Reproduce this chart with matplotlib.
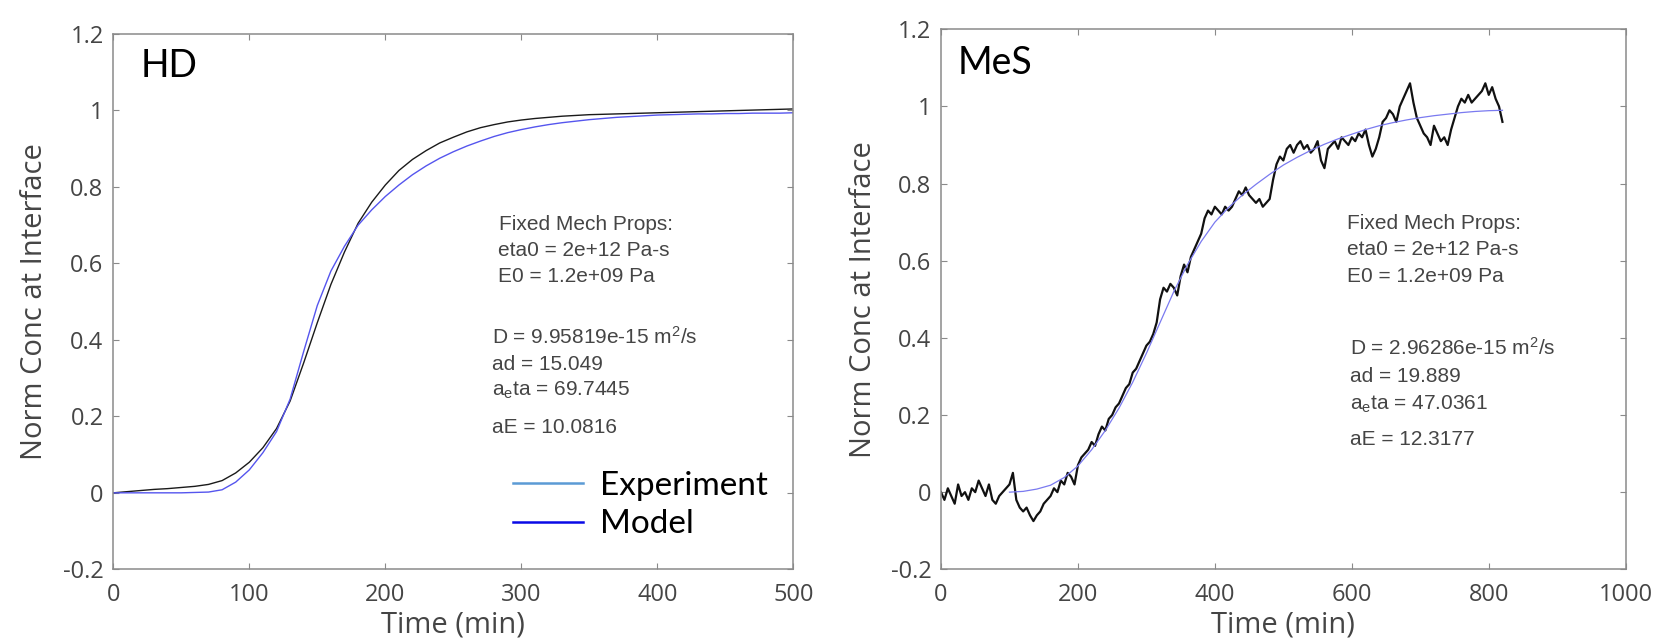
import numpy as np
import matplotlib
matplotlib.use("Agg")
import matplotlib.pyplot as plt
from matplotlib.lines import Line2D
from matplotlib.ticker import FuncFormatter, MultipleLocator

# ============================
# DATOS
# ============================
hd_time = np.arange(0, 501, 10)
hd_experiment = [
    0.000, 0.003, 0.006, 0.009, 0.011, 0.014, 0.017, 0.022, 0.032, 0.052,
    0.080, 0.118, 0.168, 0.240, 0.340, 0.445, 0.545, 0.630, 0.705, 0.760,
    0.805, 0.843, 0.872, 0.895, 0.915, 0.930, 0.944, 0.955, 0.963, 0.970,
    0.975, 0.979, 0.982, 0.985, 0.987, 0.989, 0.990, 0.991, 0.992, 0.993,
    0.994, 0.995, 0.996, 0.997, 0.998, 0.999, 1.000, 1.001, 1.002, 1.003,
    1.004,
]
hd_model = [
    0.000, 0.000, 0.000, 0.000, 0.000, 0.000, 0.001, 0.002, 0.008, 0.028,
    0.060, 0.105, 0.160, 0.245, 0.370, 0.490, 0.580, 0.645, 0.700, 0.740,
    0.775, 0.805, 0.832, 0.855, 0.875, 0.892, 0.907, 0.920, 0.932, 0.942,
    0.950, 0.957, 0.963, 0.968, 0.972, 0.976, 0.979, 0.982, 0.984, 0.986,
    0.988, 0.989, 0.990, 0.991, 0.991, 0.992, 0.992, 0.993, 0.993, 0.993,
    0.994,
]

mes_time = np.arange(0, 821, 5)
mes_experiment = [
    0.00, -0.02, 0.01, -0.01, -0.03, 0.02, -0.01, 0.00, -0.02, 0.01,
    0.00, 0.03, 0.01, -0.01, 0.02, -0.02, -0.03, -0.01, 0.00, 0.01,
    0.02, 0.05, -0.02, -0.04, -0.05, -0.04, -0.06, -0.075, -0.06, -0.05,
    -0.03, -0.02, -0.01, 0.01, 0.00, 0.03, 0.02, 0.05, 0.04, 0.02,
    0.07, 0.09, 0.10, 0.11, 0.13, 0.12, 0.15, 0.17, 0.16, 0.19,
    0.20, 0.22, 0.23, 0.25, 0.27, 0.28, 0.31, 0.32, 0.34, 0.36,
    0.38, 0.39, 0.41, 0.44, 0.50, 0.53, 0.52, 0.54, 0.53, 0.51,
    0.56, 0.59, 0.57, 0.61, 0.63, 0.65, 0.67, 0.71, 0.73, 0.72,
    0.74, 0.73, 0.72, 0.74, 0.73, 0.74, 0.76, 0.78, 0.77, 0.79,
    0.77, 0.76, 0.75, 0.76, 0.74, 0.75, 0.76, 0.81, 0.85, 0.87,
    0.86, 0.89, 0.90, 0.88, 0.90, 0.91, 0.89, 0.90, 0.88, 0.89,
    0.91, 0.86, 0.84, 0.89, 0.90, 0.91, 0.89, 0.92, 0.91, 0.90,
    0.92, 0.91, 0.93, 0.92, 0.94, 0.90, 0.87, 0.89, 0.92, 0.96,
    0.97, 0.99, 0.98, 0.96, 1.00, 1.02, 1.04, 1.06, 1.01, 0.97,
    0.95, 0.93, 0.92, 0.90, 0.95, 0.93, 0.91, 0.92, 0.90, 0.94,
    0.97, 1.00, 1.02, 1.01, 1.03, 1.01, 1.02, 1.03, 1.04, 1.06,
    1.03, 1.05, 1.02, 1.00, 0.96,
]
mes_model_time = np.arange(100, 821, 20)
mes_model = [
    0.000, 0.002, 0.008, 0.018, 0.038, 0.068, 0.110, 0.160, 0.218, 0.285,
    0.360, 0.440, 0.520, 0.590, 0.650, 0.700, 0.738, 0.770, 0.798, 0.824,
    0.848, 0.868, 0.886, 0.902, 0.916, 0.928, 0.940, 0.950, 0.958, 0.965,
    0.971, 0.976, 0.980, 0.984, 0.987, 0.989, 0.990,
]

hd_notes = [
    "Fixed Mech Props:", "eta0 = 2e+12 Pa-s", "E0 = 1.2e+09 Pa",
    r"D = 9.95819e-15 m$^2$/s", "ad = 15.049",
    r"a$_\mathrm{e}$ta = 69.7445", "aE = 10.0816",
]
mes_notes = [
    "Fixed Mech Props:", "eta0 = 2e+12 Pa-s", "E0 = 1.2e+09 Pa",
    r"D = 2.96286e-15 m$^2$/s", "ad = 19.889",
    r"a$_\mathrm{e}$ta = 47.0361", "aE = 12.3177",
]

# ============================
# ESTILO
# ============================
plt.rcParams["axes.unicode_minus"] = False
plt.rcParams["mathtext.fontset"] = "custom"
plt.rcParams["mathtext.rm"] = "Liberation Sans"
plt.rcParams["mathtext.it"] = "Liberation Sans:italic"

W, H = 1653, 641
fig = plt.figure(figsize=(W / 100, H / 100), dpi=100)


def rect_px(l, t, r, b):
    return [l / W, 1 - b / H, (r - l) / W, (b - t) / H]


gris = "#8a8a8a"
texto = "#454545"


def estilo(ax, xmax, xstep, ylab_x):
    ax.set_xlim(0, xmax)
    ax.set_ylim(-0.2, 1.2)
    ax.xaxis.set_major_locator(MultipleLocator(xstep))
    ax.yaxis.set_major_locator(MultipleLocator(0.2))
    ax.yaxis.set_major_formatter(FuncFormatter(lambda v, p: f"{v:g}" if abs(v) > 1e-9 else "0"))
    for s in ax.spines.values():
        s.set_color(gris)
        s.set_linewidth(1.1)
    ax.tick_params(direction="in", length=4, width=0.8, color=gris,
                   top=True, right=True, labelcolor=texto, labelsize=17)
    ax.tick_params(axis="x", pad=10)
    ax.tick_params(axis="y", pad=7)
    for lab in ax.get_xticklabels() + ax.get_yticklabels():
        lab.set_family("Open Sans")
    ax.set_xlabel("Time (min)", family="Open Sans", fontsize=21, color=texto, va="center")
    ax.set_ylabel("Norm Conc at Interface", family="Open Sans", fontsize=21, color=texto, va="center")
    ax.xaxis.set_label_coords(0.5, -0.104)
    ax.yaxis.set_label_coords(ylab_x, 0.5)


def notas(lineas, xs, ys):
    for txt, x, y in zip(lineas, xs, ys):
        fig.text(x / W, 1 - y / H, txt, family="Liberation Sans", fontsize=15,
                 color=texto, va="baseline", ha="left")


# ============================
# PANEL HD
# ============================
ax1 = fig.add_axes(rect_px(113.3, 34, 793.3, 569.3))
ax1.plot(hd_time, hd_experiment, color="#1a1a1a", lw=1.0)
ax1.plot(hd_time, hd_model, color="#5555ee", lw=1.0)
estilo(ax1, 500, 100, -0.1166)
fig.text(141 / W, 1 - 77 / H, "HD", family="Lato", fontsize=27, color="black", va="baseline")
notas(hd_notes, [499, 498, 498, 492, 492, 492, 492], [230, 256, 282, 344, 370, 396, 433])

handles = [Line2D([], [], color="#5b9bd5", lw=1.8), Line2D([], [], color="#0a0ae6", lw=1.8)]
leg = ax1.legend(handles, ["Experiment", "Model"], loc="upper left",
                 bbox_to_anchor=(513 / W, 1 - 471 / H), bbox_transform=fig.transFigure,
                 frameon=False, borderpad=0, borderaxespad=0, handlelength=2.1,
                 handletextpad=0.5, labelspacing=0.25,
                 prop={"family": "Lato", "size": 24})

# ============================
# PANEL MeS
# ============================
ax2 = fig.add_axes(rect_px(941, 29.3, 1625.7, 569.3))
ax2.plot(mes_time, mes_experiment, color="#111111", lw=1.6)
ax2.plot(mes_model_time, mes_model, color="#7a7af0", lw=0.9)
estilo(ax2, 1000, 200, -0.1125)
fig.text(958 / W, 1 - 74 / H, "MeS", family="Lato", fontsize=27, color="black", va="baseline")
notas(mes_notes, [1347, 1347, 1347, 1350, 1350, 1350, 1350], [229, 255, 282, 355, 382, 410, 445])

fig.savefig("out.png", dpi=100)
